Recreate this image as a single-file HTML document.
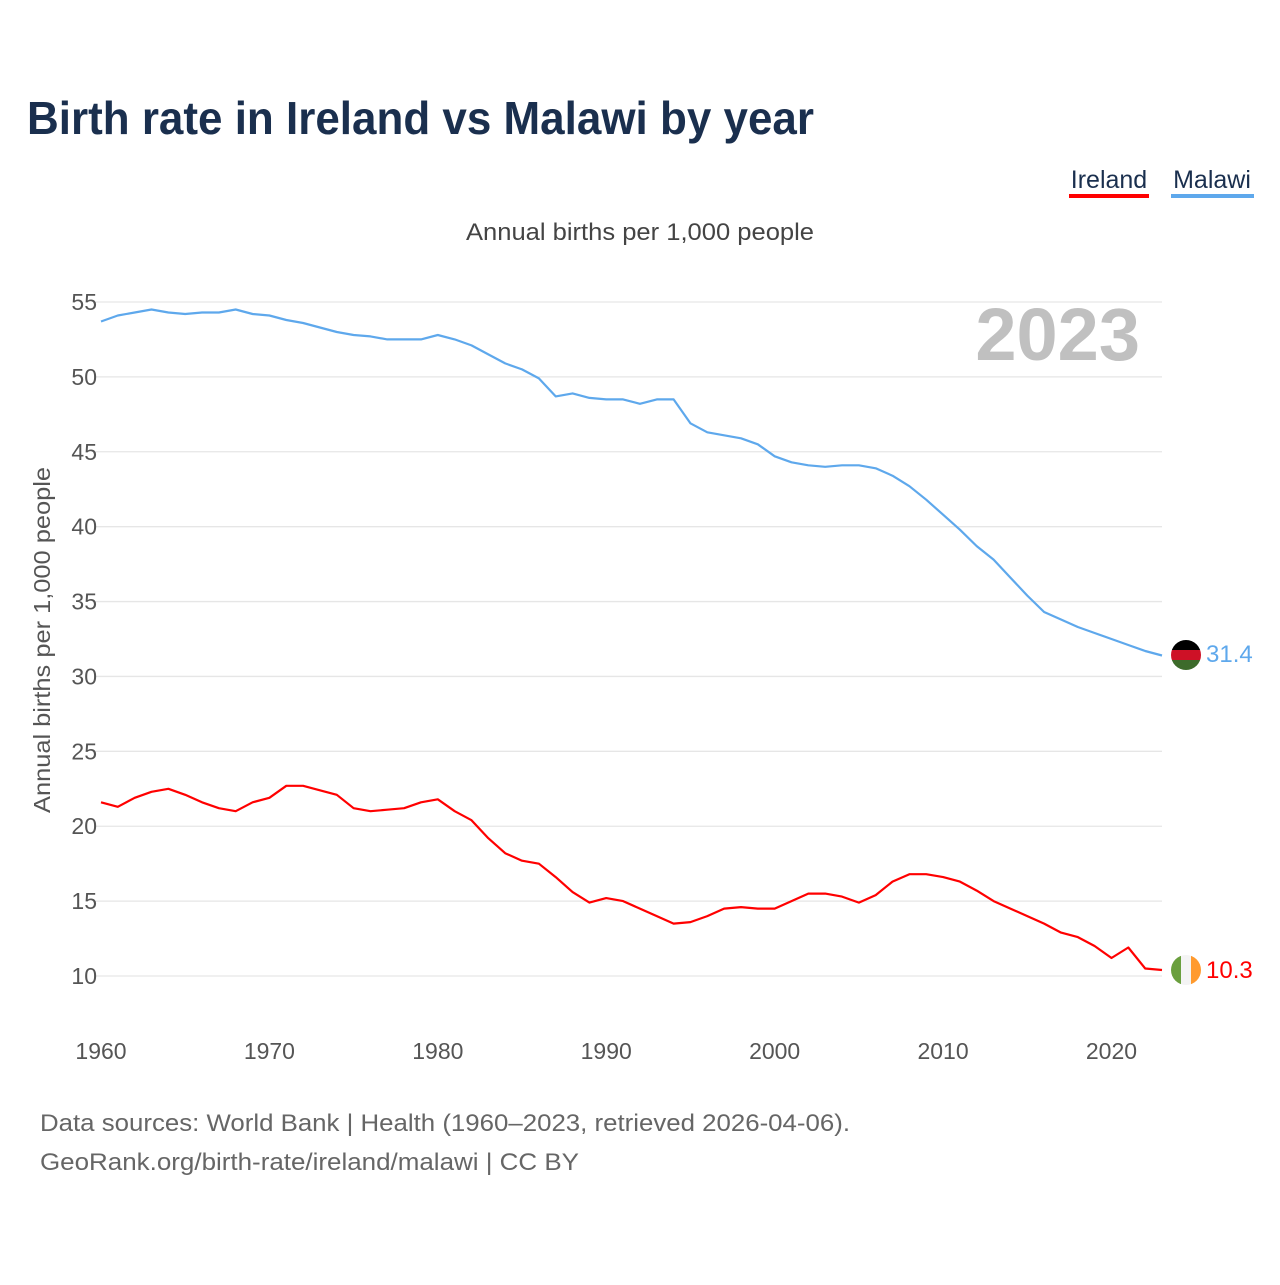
<!DOCTYPE html>
<html><head><meta charset="utf-8"><style>
body{margin:0;background:#fff;font-family:"Liberation Sans",sans-serif;}
</style></head><body>
<svg width="1280" height="1280" xmlns="http://www.w3.org/2000/svg" style="font-family:'Liberation Sans',sans-serif">
<text x="27" y="134" font-size="46" font-weight="bold" fill="#1a2f4e" textLength="787" lengthAdjust="spacingAndGlyphs">Birth rate in Ireland vs Malawi by year</text>
<g><text x="1109" y="188" font-size="25" fill="#1a2f4e" text-anchor="middle">Ireland</text><rect x="1069" y="194" width="80" height="4" fill="#ff0000"/></g>
<g><text x="1212" y="188" font-size="25" fill="#1a2f4e" text-anchor="middle">Malawi</text><rect x="1171" y="194" width="83" height="4" fill="#5ea8ec"/></g>
<text x="466" y="240" font-size="24" fill="#444" textLength="348" lengthAdjust="spacingAndGlyphs">Annual births per 1,000 people</text>
<text x="1140" y="360" font-size="74" font-weight="bold" fill="#c0c0c0" text-anchor="end">2023</text>
<text transform="translate(50,640) rotate(-90)" font-size="23" fill="#555" text-anchor="middle" textLength="346" lengthAdjust="spacingAndGlyphs">Annual births per 1,000 people</text>
<g id="grid"></g><g id="lines"></g>
<g><clipPath id="cm"><circle cx="1186" cy="655" r="15"/></clipPath><g clip-path="url(#cm)"><rect x="1170" y="640" width="32" height="10" fill="#000"/><rect x="1170" y="650" width="32" height="10" fill="#ce1126"/><rect x="1170" y="660" width="32" height="12" fill="#3d6b2b"/></g></g>
<g><clipPath id="ci"><circle cx="1186" cy="970" r="15"/></clipPath><g clip-path="url(#ci)"><rect x="1170" y="954" width="11" height="32" fill="#6a9f3e"/><rect x="1181" y="954" width="10" height="32" fill="#f4f4f4"/><rect x="1191" y="954" width="12" height="32" fill="#ff9a2e"/></g></g>
<text x="1206" y="662" font-size="24" fill="#5ea8ec">31.4</text>
<text x="1206" y="978" font-size="24" fill="#ff0000">10.3</text>
<text x="40" y="1131" font-size="24" fill="#666" textLength="810" lengthAdjust="spacingAndGlyphs">Data sources: World Bank | Health (1960–2023, retrieved 2026-04-06).</text>
<text x="40" y="1170" font-size="24" fill="#666" textLength="539" lengthAdjust="spacingAndGlyphs">GeoRank.org/birth-rate/ireland/malawi | CC BY</text>
</svg>
<script>
const years=[];for(let y=1960;y<=2023;y++)years.push(y);
const malawi=[53.7,54.1,54.3,54.5,54.3,54.2,54.3,54.3,54.5,54.2,54.1,53.8,53.6,53.3,53.0,52.8,52.7,52.5,52.5,52.5,52.8,52.5,52.1,51.5,50.9,50.5,49.9,48.7,48.9,48.6,48.5,48.5,48.2,48.5,48.5,46.9,46.3,46.1,45.9,45.5,44.7,44.3,44.1,44.0,44.1,44.1,43.9,43.4,42.7,41.8,40.8,39.8,38.7,37.8,36.6,35.4,34.3,33.8,33.3,32.9,32.5,32.1,31.7,31.4];
const ireland=[21.6,21.3,21.9,22.3,22.5,22.1,21.6,21.2,21.0,21.6,21.9,22.7,22.7,22.4,22.1,21.2,21.0,21.1,21.2,21.6,21.8,21.0,20.4,19.2,18.2,17.7,17.5,16.6,15.6,14.9,15.2,15.0,14.5,14.0,13.5,13.6,14.0,14.5,14.6,14.5,14.5,15.0,15.5,15.5,15.3,14.9,15.4,16.3,16.8,16.8,16.6,16.3,15.7,15.0,14.5,14.0,13.5,12.9,12.6,12.0,11.2,11.9,10.5,10.4];
const yTicks=[10,15,20,25,30,35,40,45,50,55];
const xTicks=[1960,1970,1980,1990,2000,2010,2020];
const X=v=>101+(v-1960)*(1162-101)/63;
const Y=v=>976-(v-10)*(976-302)/45;
const NS='http://www.w3.org/2000/svg';
const grid=document.getElementById('grid'),lines=document.getElementById('lines');
function mk(tag,at,parent){const e=document.createElementNS(NS,tag);for(const k in at)e.setAttribute(k,at[k]);parent.appendChild(e);return e;}
yTicks.forEach(t=>{
 const l=mk('line',{x1:95,x2:1162,y1:Y(t),y2:Y(t),stroke:'#e6e6e6','stroke-width':1.3},grid);
 
 
 const tx=mk('text',{x:97,y:Y(t)+8,'font-size':23,fill:'#555','text-anchor':'end'},grid);
 tx.textContent=t;
 
 
});
xTicks.forEach(t=>{
 const tx=mk('text',{x:X(t),y:1059,'font-size':23,fill:'#555','text-anchor':'middle'},grid);
 tx.textContent=t;
 
 
});
function line(data,color,name){
 const d=data.map((v,i)=>(i?'L':'M')+X(years[i]).toFixed(1)+','+Y(v).toFixed(1)).join('');
 const p=mk('path',{d:d,fill:'none',stroke:color,'stroke-width':2.2,'stroke-linejoin':'round'},lines);
 
 
}
line(malawi,'#5ea8ec','malawi-line');
line(ireland,'#ff0000','ireland-line');
</script>
</body></html>
